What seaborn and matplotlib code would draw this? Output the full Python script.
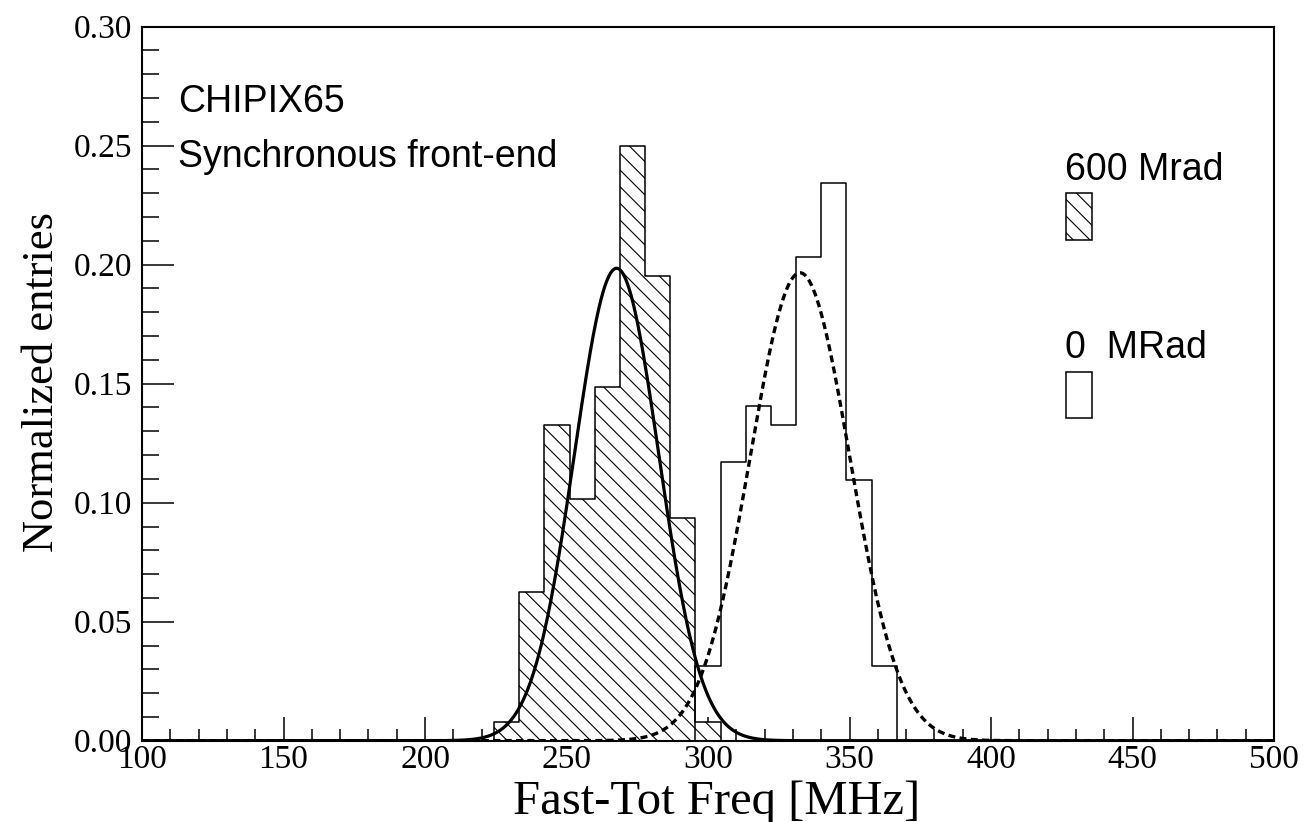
import numpy as np
import pandas as pd
import matplotlib
matplotlib.use("Agg")
import matplotlib.pyplot as plt
import seaborn as sns
from matplotlib.patches import Rectangle
from matplotlib.ticker import MultipleLocator, FormatStrFormatter

# ---------------- data ----------------
x_min, x_max, n_bins = 100, 500, 45            # histogram binning
n_entries = 128
irr_first_bin = 14                               # 600 Mrad histogram
irr_counts = [1, 8, 17, 13, 19, 32, 25, 12, 1]
unirr_first_bin = 22                             # 0 MRad histogram
unirr_counts = [4, 15, 18, 17, 26, 30, 14, 4]
fit_irr_amp, fit_irr_mean, fit_irr_sigma = 0.1985, 267.7, 14.9
fit_unirr_amp, fit_unirr_mean, fit_unirr_sigma = 0.1966, 332.5, 17.6
x_ticks = [100, 150, 200, 250, 300, 350, 400, 450, 500]
y_ticks = [0.00, 0.05, 0.10, 0.15, 0.20, 0.25, 0.30]
label_irr = "600 Mrad"
label_unirr = "0  MRad"
title_lines = ["CHIPIX65", "Synchronous front-end"]
x_title = "Fast-Tot Freq [MHz]"
y_title = "Normalized entries"

# ---------------- style ----------------
sns.set_style("white")
plt.rcParams["font.family"] = ["Liberation Serif", "DejaVu Serif"]
plt.rcParams["hatch.linewidth"] = 0.8
plt.rcParams["hatch.color"] = "black"
plt.rcParams["text.color"] = "black"
plt.rcParams["axes.labelcolor"] = "black"
plt.rcParams["xtick.color"] = "black"
plt.rcParams["ytick.color"] = "black"

fig = plt.figure(figsize=(13.16, 8.22), dpi=100)
ax = fig.add_axes([142 / 1316, 1 - 740.7 / 822, 1132 / 1316, 714 / 822])

edges = np.linspace(x_min, x_max, n_bins + 1)
width = edges[1] - edges[0]


def hist_frame(first, counts):
    e = edges[first:first + len(counts) + 1]
    return pd.DataFrame({"x": e[:-1] + width / 2,
                         "w": np.asarray(counts) / n_entries}), (float(e[0]), float(e[-1]))


df_irr, r_irr = hist_frame(irr_first_bin, irr_counts)
df_unirr, r_unirr = hist_frame(unirr_first_bin, unirr_counts)

sns.histplot(data=df_irr, x="x", weights="w", bins=len(irr_counts),
             binrange=r_irr, stat="count",
             element="step", fill=True, ax=ax, color="black",
             facecolor=(1, 1, 1, 1), edgecolor="black", hatch="\\\\",
             linewidth=1.1, zorder=2)
sns.histplot(data=df_unirr, x="x", weights="w", bins=len(unirr_counts),
             binrange=r_unirr, stat="count",
             element="step", fill=True, ax=ax, color="black",
             facecolor=(1, 1, 1, 0), edgecolor="black",
             linewidth=1.1, zorder=3)

xs = np.linspace(x_min, x_max, 1200)
gauss_irr = fit_irr_amp * np.exp(-0.5 * ((xs - fit_irr_mean) / fit_irr_sigma) ** 2)
gauss_unirr = fit_unirr_amp * np.exp(-0.5 * ((xs - fit_unirr_mean) / fit_unirr_sigma) ** 2)
sns.lineplot(x=xs, y=gauss_irr, ax=ax, color="black", linewidth=2.3,
             estimator=None, sort=False, zorder=4)
sns.lineplot(x=xs, y=gauss_unirr, ax=ax, color="black", linewidth=2.4,
             linestyle=(0, (2.1, 1.3)), estimator=None, sort=False, zorder=4)

# ---------------- axes ----------------
ax.set_xlim(x_min, x_max)
ax.set_ylim(y_ticks[0], y_ticks[-1])
ax.set_xticks(x_ticks)
ax.set_yticks(y_ticks)
ax.xaxis.set_minor_locator(MultipleLocator(10))
ax.yaxis.set_minor_locator(MultipleLocator(0.01))
ax.yaxis.set_major_formatter(FormatStrFormatter("%.2f"))
ax.tick_params(axis="both", which="both", direction="in", bottom=True,
               left=True, top=False, right=False, width=1.1,
               colors="black", labelsize=24)
ax.tick_params(axis="x", which="major", length=17, pad=3)
ax.tick_params(axis="x", which="minor", length=9)
ax.tick_params(axis="y", which="major", length=23, pad=7)
ax.tick_params(axis="y", which="minor", length=12)
for s in ax.spines.values():
    s.set_visible(True)
    s.set_linewidth(1.5)
    s.set_color("black")
ax.grid(False)

ax.set_xlabel(x_title, fontsize=35, va="baseline", ha="center")
ax.xaxis.set_label_coords(0.508, -0.1027)
ax.set_ylabel(y_title, fontsize=32, va="center", ha="center")
ax.yaxis.set_label_coords(-0.088, 0.502)

sans = ["Liberation Sans", "DejaVu Sans"]
ax.text(0.0318, 0.880, title_lines[0], transform=ax.transAxes,
        fontsize=27, family=sans, va="baseline", ha="left")
ax.text(0.0318, 0.804, title_lines[1], transform=ax.transAxes,
        fontsize=27, family=sans, va="baseline", ha="left")

# legend (label above its swatch)
ax.text(0.8156, 0.7853, label_irr, transform=ax.transAxes,
        fontsize=27, family=sans, va="baseline", ha="left")
ax.add_patch(Rectangle((0.8163, 0.7013), 0.0227, 0.0662, transform=ax.transAxes,
                       facecolor="white", edgecolor="black", hatch="\\\\",
                       linewidth=1.1, clip_on=False))
ax.text(0.8156, 0.536, label_unirr, transform=ax.transAxes,
        fontsize=27, family=sans, va="baseline", ha="left")
ax.add_patch(Rectangle((0.8163, 0.4515), 0.0227, 0.0653, transform=ax.transAxes,
                       facecolor="white", edgecolor="black",
                       linewidth=1.1, clip_on=False))

fig.savefig("out.png", dpi=100)
